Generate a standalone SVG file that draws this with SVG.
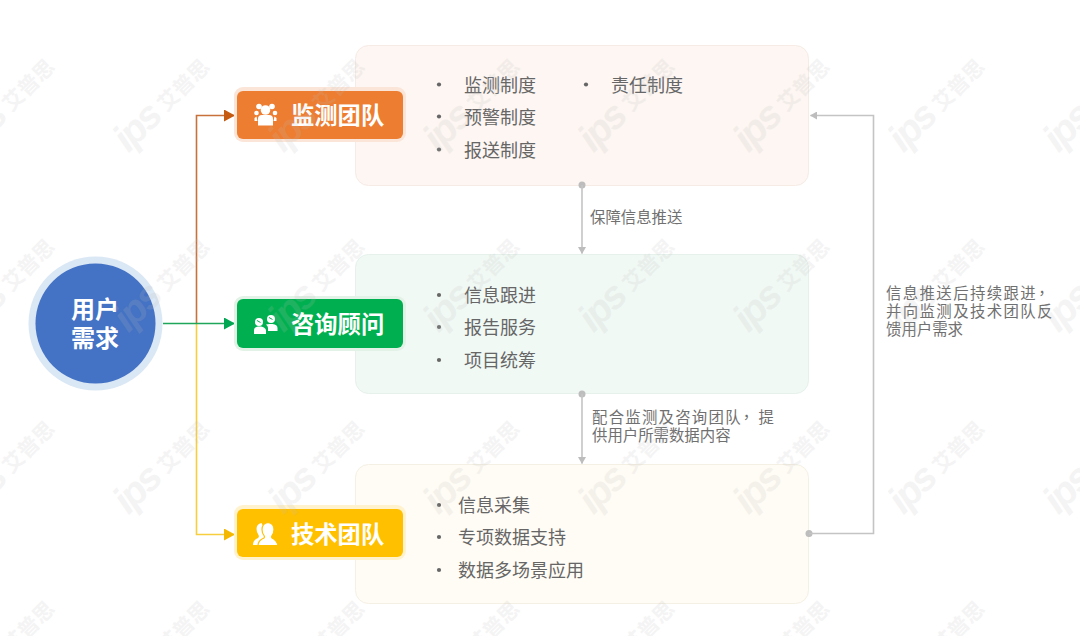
<svg xmlns="http://www.w3.org/2000/svg" xmlns:xlink="http://www.w3.org/1999/xlink" width="1080" height="636" viewBox="0 0 1080 636">
<style>
text{font-family:"Noto Sans CJK SC","Noto Sans",sans-serif}
.panel{stroke-width:1}
.item{font-size:18px;fill:#666}
.dot{fill:#666}
.note{font-size:15.4px;fill:#707070}
.cm{font-family:"Noto Sans CJK TC",sans-serif}
.badge{font-size:23.3px;font-weight:700;fill:#fff}
.ic{fill:#fff}
.g{fill:none;stroke:#c4c4c4;stroke-width:1.6}
.wm{font-weight:700;fill:#bdbdbd;opacity:.16}
</style>
<defs>
<marker id="aO" markerUnits="userSpaceOnUse" markerWidth="11" markerHeight="12" refX="10" refY="6" orient="auto"><path d="M0 0L11 6L0 12Z" fill="#C55A11"/></marker>
<marker id="aG" markerUnits="userSpaceOnUse" markerWidth="11" markerHeight="12" refX="10" refY="6" orient="auto"><path d="M0 0L11 6L0 12Z" fill="#00A651"/></marker>
<marker id="aY" markerUnits="userSpaceOnUse" markerWidth="11" markerHeight="12" refX="10" refY="6" orient="auto"><path d="M0 0L11 6L0 12Z" fill="#F5B800"/></marker>
<marker id="aS" markerUnits="userSpaceOnUse" markerWidth="7" markerHeight="8" refX="6.5" refY="4" orient="auto"><path d="M0 0L7 4L0 8Z" fill="#bdbdbd"/></marker>
<g id="mark"><text x="2" y="0" transform="rotate(-45)" font-size="39" style="font-family:'Liberation Sans',sans-serif;font-style:italic" class="wm" letter-spacing="-2.500">ips</text><text x="58" y="-2" transform="rotate(-45)" font-size="21" class="wm">艾普思</text></g>
</defs>

<g id="panel-monitor"><rect class="panel" x="355.5" y="45.5" width="453" height="140" rx="13" fill="#FDF6F2" stroke="#F6EBE5"/>
<circle class="dot" cx="439" cy="84.500" r="2.100"/><text class="item" x="464" y="92">监测制度</text>
<circle class="dot" cx="586" cy="84.500" r="2.100"/><text class="item" x="611" y="92">责任制度</text>
<circle class="dot" cx="439" cy="116.500" r="2.100"/><text class="item" x="464" y="124">预警制度</text>
<circle class="dot" cx="439" cy="149.500" r="2.100"/><text class="item" x="464" y="157">报送制度</text></g>

<g id="panel-consult"><rect class="panel" x="355.5" y="254.5" width="453" height="139" rx="13" fill="#F1F9F5" stroke="#E6F1EB"/>
<circle class="dot" cx="439" cy="295" r="2.100"/><text class="item" x="464" y="302">信息跟进</text>
<circle class="dot" cx="439" cy="327" r="2.100"/><text class="item" x="464" y="334">报告服务</text>
<circle class="dot" cx="439" cy="360" r="2.100"/><text class="item" x="464" y="367">项目统筹</text></g>

<g id="panel-tech"><rect class="panel" x="355.5" y="464.5" width="453" height="139" rx="13" fill="#FFFCF5" stroke="#F5F0E4"/>
<circle class="dot" cx="439" cy="505" r="2.100"/><text class="item" x="458" y="512">信息采集</text>
<circle class="dot" cx="439" cy="537" r="2.100"/><text class="item" x="458" y="544">专项数据支持</text>
<circle class="dot" cx="439" cy="570" r="2.100"/><text class="item" x="458" y="577">数据多场景应用</text></g>

<g id="connectors">
<path d="M196.500 323V115.500H234" fill="none" stroke="#C8713A" stroke-width="1.6" marker-end="url(#aO)"/>
<path d="M196.500 323V534.500H234" fill="none" stroke="#F7CE3E" stroke-width="1.6" marker-end="url(#aY)"/>
<path d="M163 323.500H234" fill="none" stroke="#1FA65A" stroke-width="1.6" marker-end="url(#aG)"/>
<circle cx="582" cy="185" r="3.500" fill="#bdbdbd"/>
<path class="g" d="M582 185V253.500" marker-end="url(#aS)"/>
<circle cx="582" cy="394" r="3.500" fill="#bdbdbd"/>
<path class="g" d="M582 394V463.500" marker-end="url(#aS)"/>
<circle cx="809" cy="533.500" r="3.500" fill="#bdbdbd"/>
<path class="g" d="M809 533.500H873.500V115.500H810.500" marker-end="url(#aS)"/>
</g>
<g id="edge-labels">
<text class="note" x="590" y="223">保障信息推送</text>
<text class="note" x="592" y="423" letter-spacing="1.25">配合监测及咨询团队<tspan class="cm" dx="-3">，</tspan><tspan dx="3">提</tspan></text>
<text class="note" x="592" y="441">供用户所需数据内容</text>
<text class="note" x="886" y="299" letter-spacing="1.4">信息推送后持续跟进<tspan class="cm" dx="-3">，</tspan></text>
<text class="note" x="886" y="317" letter-spacing="1.4">并向监测及技术团队反</text>
<text class="note" x="886" y="335">馈用户需求</text>
</g>

<g id="node-user"><circle cx="95.500" cy="323.500" r="67" fill="#DAE7F5"/><circle cx="95.500" cy="323.500" r="60" fill="#4472C4"/>
<text x="95" y="318" text-anchor="middle" font-size="24" font-weight="700" fill="#fff">用户</text>
<text x="95" y="347" text-anchor="middle" font-size="24" font-weight="700" fill="#fff">需求</text></g>

<g id="node-monitor"><rect x="234" y="87" width="172" height="55" rx="9" fill="#FBE5D8"/><rect x="237" y="91" width="166" height="48" rx="6" fill="#ED7D31"/>
<g class="ic"><circle cx="265.500" cy="110" r="4.800"/><circle cx="259" cy="106.500" r="2.800"/><circle cx="272" cy="106.500" r="2.800"/><circle cx="256.500" cy="113" r="2.300"/><circle cx="275" cy="113" r="2.300"/><path d="M258 125.500V119q0-4 4-4H269q4 0 4 4V125.500Z"/><path d="M254.500 121v-3l2-1.500 1 4.500ZM276.500 121v-3l-2-1.500-1 4.500Z"/></g>
<text class="badge" x="291" y="123.500">监测团队</text></g>

<g id="node-consult"><rect x="234" y="296" width="172" height="55" rx="9" fill="#E2F2E6"/><rect x="237" y="299" width="166" height="49" rx="6" fill="#00B050"/>
<g class="ic"><circle cx="259" cy="322" r="4"/><circle cx="271" cy="319" r="4"/><path d="M254 334v-4q0-3 4-3.500h3q4 .5 5 3.500v4ZM268 331v-3q0-2-2-3.500l3.500-.5h3q5 .5 5 4v3Z"/></g>
<path d="M257 320.500l3.500 2M269 317.500l3.500 2" stroke="#00B050" fill="none"/>
<text class="badge" x="291" y="332.500">咨询顾问</text></g>

<g id="node-tech"><rect x="234" y="505" width="172" height="55" rx="9" fill="#FFF2CC"/><rect x="237" y="509" width="166" height="48" rx="6" fill="#FFC000"/>
<path class="ic" d="M253 545q0-5 5-7 1.500-1 .5-3-2-3-2-6 0-5 5-6l3 6-1 16Z"/>
<path class="ic" stroke="#FFC000" stroke-width="1.200" d="M258 545.500q0-5 6-7.500 1-1 0-2.500-2-2.500-2-6 0-6 6-7 6 1 6 7 0 3.500-2 6-1 1.500 0 2.500 5 2.500 6 7.500Z"/>
<text class="badge" x="291" y="542.500">技术团队</text></g>

<g id="watermark"><use xlink:href="#mark" href="#mark" x="-28" y="155"/><use href="#mark" x="127" y="155"/><use href="#mark" x="282" y="155"/><use href="#mark" x="437" y="155"/><use href="#mark" x="592" y="155"/><use href="#mark" x="747" y="155"/><use href="#mark" x="902" y="155"/><use href="#mark" x="1057" y="155"/>
<use href="#mark" x="-28" y="335"/><use href="#mark" x="127" y="335"/><use href="#mark" x="282" y="335"/><use href="#mark" x="437" y="335"/><use href="#mark" x="592" y="335"/><use href="#mark" x="747" y="335"/><use href="#mark" x="902" y="335"/><use href="#mark" x="1057" y="335"/>
<use href="#mark" x="-28" y="517"/><use href="#mark" x="127" y="517"/><use href="#mark" x="282" y="517"/><use href="#mark" x="437" y="517"/><use href="#mark" x="592" y="517"/><use href="#mark" x="747" y="517"/><use href="#mark" x="902" y="517"/><use href="#mark" x="1057" y="517"/>
<use href="#mark" x="-28" y="697"/><use href="#mark" x="127" y="697"/><use href="#mark" x="282" y="697"/><use href="#mark" x="437" y="697"/><use href="#mark" x="592" y="697"/><use href="#mark" x="747" y="697"/><use href="#mark" x="902" y="697"/><use href="#mark" x="1057" y="697"/></g>
</svg>
